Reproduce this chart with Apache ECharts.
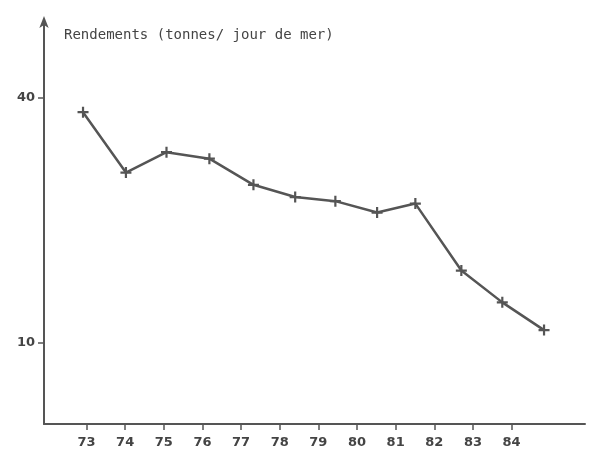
<!DOCTYPE html>
<html>
<head>
<meta charset="utf-8">
<script src="https://cdn.jsdelivr.net/npm/echarts@6/dist/echarts.min.js"></script>
<style>html,body{margin:0;padding:0;background:#fff}#c{width:600px;height:456px}</style>
</head>
<body>
<div id="c"></div>
<script>
// Data (x positions as drawn relative to the year ticks)
const years = [72.91, 74.02, 75.07, 76.18, 77.32, 78.40, 79.44, 80.52, 81.51, 82.70, 83.76, 84.84];
const rendements = [38.2, 30.8, 33.3, 32.5, 29.3, 27.8, 27.3, 25.9, 27.0, 18.8, 14.9, 11.5];
const xTickValues = [73, 74, 75, 76, 77, 78, 79, 80, 81, 82, 83, 84];
const yTickValues = [10, 40];
const titleText = 'Rendements (tonnes/ jour de mer)';

const ink = '#555';
const chart = echarts.init(document.getElementById('c'), null, {renderer: 'canvas'});
chart.setOption({
  backgroundColor: '#fff',
  animation: false,
  title: {
    text: titleText, left: 59, top: 23,
    textStyle: {fontFamily: 'DejaVu Sans Mono', fontSize: 14, fontWeight: 'normal', color: '#444'}
  },
  grid: {left: 44, right: 15, top: 24, bottom: 32},
  xAxis: {
    type: 'value', min: 71.9, max: 85.9,
    splitLine: {show: false},
    axisLine: {lineStyle: {color: ink, width: 2}},
    axisTick: {show: true, customValues: xTickValues, length: 6, lineStyle: {color: ink, width: 1.5}},
    axisLabel: {customValues: xTickValues, margin: 12, color: '#444', fontFamily: 'DejaVu Sans', fontSize: 13, fontWeight: 'bold'}
  },
  yAxis: {
    type: 'value', min: 0, max: 49,
    splitLine: {show: false},
    axisLine: {show: true, lineStyle: {color: ink, width: 2}, symbol: ['none', 'arrow'], symbolSize: [7, 12], symbolOffset: [0, 8]},
    axisTick: {show: true, customValues: yTickValues, length: 6, lineStyle: {color: ink, width: 1.5}},
    axisLabel: {customValues: yTickValues, margin: 9, color: '#444', fontFamily: 'DejaVu Sans', fontSize: 13, fontWeight: 'bold'}
  },
  series: [{
    type: 'line',
    data: years.map((x, i) => [x, rendements[i]]),
    symbol: 'path://M4,0h2v4h4v2h-4v4h-2v-4h-4v-2h4z',
    symbolSize: 11,
    itemStyle: {color: ink},
    lineStyle: {color: ink, width: 2.5}
  }]
});
</script>
</body>
</html>
